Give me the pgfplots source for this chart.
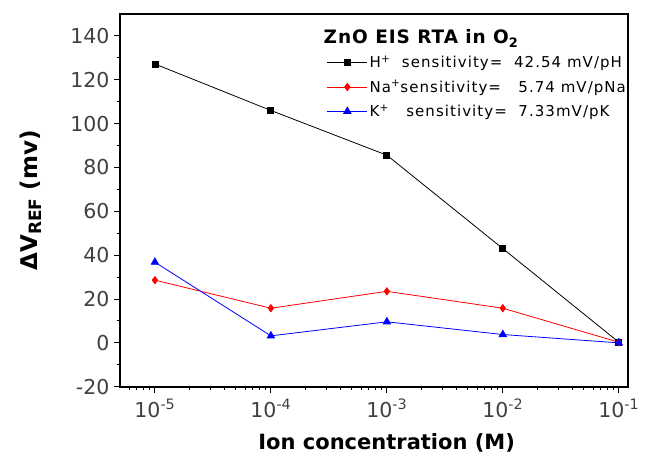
\documentclass[border=0pt]{standalone}
\usepackage{pgfplots}
\pgfplotsset{compat=1.18}
\usepackage{fontspec}
\setmainfont{DejaVu Sans}
\newfontfamily\legfont[LetterSpace=7]{DejaVu Sans}
\newfontfamily\titfont[LetterSpace=5]{DejaVu Sans}
\begin{document}
\begin{tikzpicture}[x=1pt,y=1pt]
\path[use as bounding box] (-120,-69.3) rectangle (530,386.7);
\begin{axis}[
  at={(0,0)}, anchor=south west,
  scale only axis, width=508pt, height=372.7pt,
  xmode=log, xmin=5e-6, xmax=0.12,
  ymin=-20, ymax=150,
  xtick={1e-5,1e-4,1e-3,1e-2,1e-1},
  minor xtick={6e-6,7e-6,8e-6,9e-6,2e-5,3e-5,4e-5,5e-5,6e-5,7e-5,8e-5,9e-5,2e-4,3e-4,4e-4,5e-4,6e-4,7e-4,8e-4,9e-4,2e-3,3e-3,4e-3,5e-3,6e-3,7e-3,8e-3,9e-3,2e-2,3e-2,4e-2,5e-2,6e-2,7e-2,8e-2,9e-2},
  xticklabels={10\textsuperscript{-5},10\textsuperscript{-4},10\textsuperscript{-3},10\textsuperscript{-2},10\textsuperscript{-1}},
  ytick={-20,0,...,140},
  minor y tick num=1,
  tick align=outside, xtick pos=bottom, ytick pos=left,
  major tick length=6pt, minor tick length=3.5pt,
  every tick/.style={black, line width=1pt},
  axis line style={line width=1.6pt},
  /pgf/number format/assume math mode=true,
  ticklabel style={font=\fontsize{20.5}{23}\selectfont, text=black!75},
  yticklabel style={xshift=-1pt},
  xticklabel style={yshift=-3pt},
  xlabel={\textbf{Ion concentration (M)}},
  ylabel={\textbf{ΔV\raisebox{-0.3ex}{\fontsize{17}{19}\selectfont REF} (mv)}},
  xlabel style={font=\fontsize{21}{24}\selectfont, at={(axis description cs:0.525,-0.115)}, anchor=north},
  ylabel style={font=\fontsize{23}{26}\selectfont, at={(axis description cs:-0.175,0.5)}, anchor=center},
  legend cell align=left,
  legend style={draw=none, fill=none, at={(axis description cs:0.405,0.967)}, anchor=north west,
    font=\legfont\fontsize{15}{18}\selectfont, row sep=7pt, inner sep=1pt},
  legend image code/.code={\draw[mark repeat=2,mark phase=2] plot coordinates {(0pt,0pt) (20pt,0pt) (40pt,0pt)};},
]
\addlegendimage{empty legend}
\addlegendentry{\hspace{-46pt}\titfont\fontsize{18.5}{21}\selectfont\textbf{ZnO EIS RTA in O\textsubscript{2}}\rule[-5pt]{0pt}{5pt}}
\addplot[black, line width=0.8pt, mark=square*, mark size=3pt, mark options={solid}] coordinates {
(1e-5,127.2) (1e-4,106.0) (1e-3,85.6) (1e-2,43.0) (1e-1,0.3)};
\addlegendentry{H\textsuperscript{+}\ \ sensitivity=\ \ 42.54 mV/pH}
\addplot[red, line width=0.8pt, mark=diamond*, mark size=3.6pt] coordinates {
(1e-5,28.6) (1e-4,15.8) (1e-3,23.5) (1e-2,15.8) (1e-1,0.3)};
\addlegendentry{Na\textsuperscript{+}sensitivity=\ \ \ 5.74 mV/pNa}
\addplot[blue, line width=0.8pt, mark=triangle*, mark size=4.2pt] coordinates {
(1e-5,36.8) (1e-4,3.2) (1e-3,9.6) (1e-2,3.8) (1e-1,0.0)};
\addlegendentry{K\textsuperscript{+}\ \ \ sensitivity=\ \ 7.33mV/pK}
\end{axis}
\end{tikzpicture}
\end{document}
